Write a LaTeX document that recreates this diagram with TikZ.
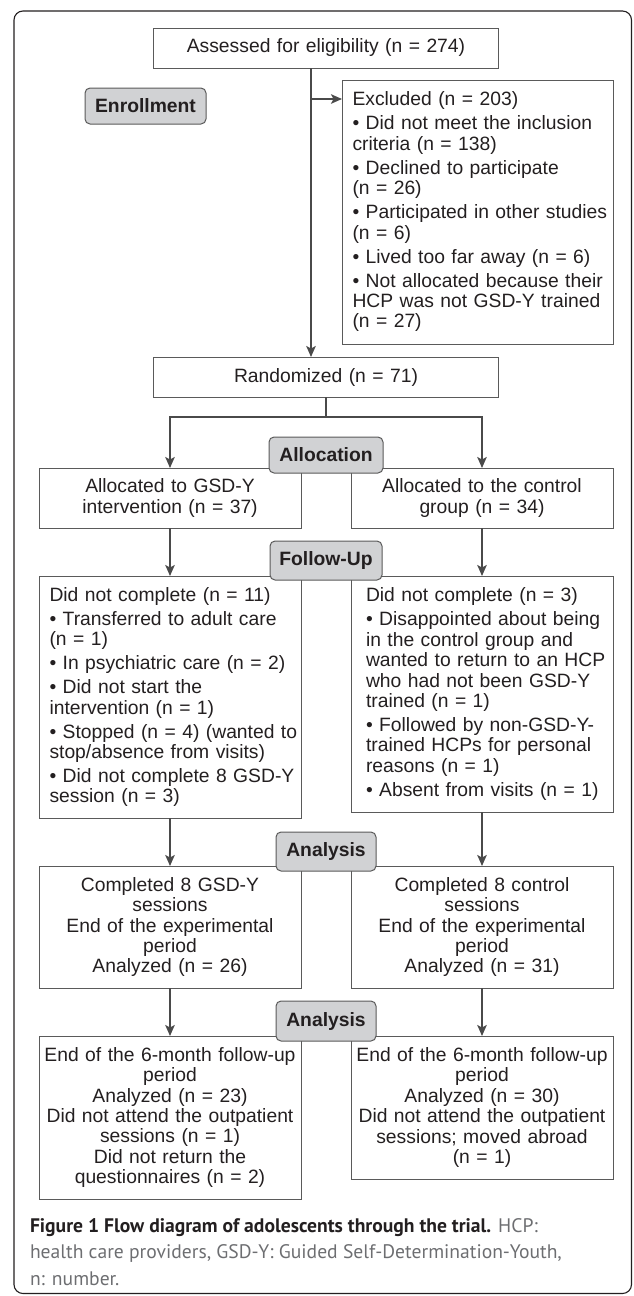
\documentclass[tikz,border=0pt]{standalone}
\usepackage{fontspec}
\setmainfont{Liberation Sans}
\newfontfamily\capfont{PT Sans}
\usetikzlibrary{arrows.meta,calc}
\definecolor{linec}{HTML}{4A4A4A}
\definecolor{boxc}{HTML}{5A5A5A}
\definecolor{txtc}{HTML}{231F20}
\definecolor{labfill}{HTML}{D1D2D4}
\definecolor{capdark}{HTML}{231F20}
\definecolor{capgray}{HTML}{6D6E71}
\newcommand\mb[1]{\mbox{#1}}
\begin{document}
\begin{tikzpicture}[x=1pt,y=-1pt,
  every node/.style={outer sep=0pt},
  txt/.style={font=\fontsize{19.3}{20.4}\selectfont, text=txtc},
  box/.style={txt, draw=boxc, line width=0.9pt, inner ysep=0pt, anchor=north west},
  lbox/.style={box, align=left},
  cbox/.style={box, align=center, inner xsep=4pt},
  stagelabel/.style={draw=boxc, line width=1pt, fill=labfill, rounded corners=5pt,
     font=\fontsize{19.3}{20.4}\selectfont\bfseries, text=txtc, inner sep=0pt},
  conn/.style={draw=linec, line width=1.6pt},
  arr/.style={conn, -{Stealth[length=11pt,width=9.5pt,inset=2.5pt]}},
  captxt/.style={anchor=base west, inner sep=0pt, font=\capfont\fontsize{19.6}{26}\selectfont, text=capgray}
]
\useasboundingbox (0,0) rectangle (633,1296);
% outer frame
\draw[draw=txtc, line width=1.1pt, rounded corners=9pt] (14,11) rectangle (631.5,1293.5);

% main boxes
\node[cbox, minimum width=344.8pt, minimum height=40pt, text width=336pt] (assessed) at (153.6,28) {Assessed for eligibility (n = 274)};
\node[lbox, minimum width=271.6pt, minimum height=264pt, inner xsep=10.5pt, text width=250.6pt] (excluded) at (342,80)
 {\mb{Excluded (n = 203)}\\[3.6pt]
  \mb{• Did not meet the inclusion}\\ \mb{criteria (n = 138)}\\[3.6pt]
  \mb{• Declined to participate}\\ \mb{(n = 26)}\\[3.6pt]
  \mb{• Participated in other studies}\\ \mb{(n = 6)}\\[3.6pt]
  \mb{• Lived too far away (n = 6)}\\[3.6pt]
  \mb{• Not allocated because their}\\ \mb{HCP was not GSD-Y trained}\\ \mb{(n = 27)}};
\node[cbox, minimum width=344.8pt, minimum height=40pt, text width=336pt] (randomized) at (153.6,357) {Randomized (n = 71)};

\node[cbox, minimum width=262pt, minimum height=60pt, text width=254pt] (alloc1) at (39,468) {Allocated to GSD-Y\\ intervention (n = 37)};
\node[cbox, minimum width=262pt, minimum height=60pt, text width=254pt] (alloc2) at (351,468) {Allocated to the control\\ group (n = 34)};

\node[lbox, minimum width=262pt, minimum height=242pt, inner xsep=10.5pt, text width=241pt] (dnc1) at (39,576)
 {\mb{Did not complete (n = 11)}\\[3.6pt]
  \mb{• Transferred to adult care}\\ \mb{(n = 1)}\\[3.6pt]
  \mb{• In psychiatric care (n = 2)}\\[3.6pt]
  \mb{• Did not start the}\\ \mb{intervention (n = 1)}\\[3.6pt]
  \mb{• Stopped (n = 4) (wanted to}\\ \mb{stop/absence from visits)}\\[3.6pt]
  \mb{• Did not complete 8 GSD-Y}\\ \mb{session (n = 3)}};
\node[lbox, minimum width=262pt, minimum height=236pt, inner xsep=15pt, text width=232pt] (dnc2) at (351,576)
 {\mb{Did not complete (n = 3)}\\[3.6pt]
  \mb{• Disappointed about being}\\ \mb{in the control group and}\\ \mb{wanted to return to an HCP}\\ \mb{who had not been GSD-Y}\\ \mb{trained (n = 1)}\\[3.6pt]
  \mb{• Followed by non-GSD-Y-}\\ \mb{trained HCPs for personal}\\ \mb{reasons (n = 1)}\\[3.6pt]
  \mb{• Absent from visits (n = 1)}};

\node[cbox, minimum width=262pt, minimum height=122pt, text width=254pt] (comp1) at (39,866)
 {Completed 8 GSD-Y\\ sessions\\ End of the experimental\\ period\\ Analyzed (n = 26)};
\node[cbox, minimum width=262pt, minimum height=122pt, text width=254pt] (comp2) at (351,866)
 {Completed 8 control\\ sessions\\ End of the experimental\\ period\\ Analyzed (n = 31)};

\node[cbox, minimum width=262pt, minimum height=163pt, text width=254pt] (end1) at (39,1036)
 {\mb{End of the 6-month follow-up}\\ period\\ Analyzed (n = 23)\\ \mb{Did not attend the outpatient}\\ sessions (n = 1)\\ Did not return the\\ questionnaires (n = 2)};
\node[cbox, minimum width=262pt, minimum height=143pt, text width=254pt] (end2) at (351,1036)
 {\mb{End of the 6-month follow-up}\\ period\\ Analyzed (n = 30)\\ \mb{Did not attend the outpatient}\\ sessions; moved abroad\\ (n = 1)};

% connectors
\coordinate (trunk) at (311,0);
\coordinate (exclarrow) at (311,99);
\draw[arr] (assessed.south -| trunk) -- (randomized.north -| trunk);
\draw[arr] (exclarrow) -- (excluded.west |- exclarrow);
\coordinate (split) at (326,417);
\draw[conn] (randomized.south) -- (split);
\draw[arr] (split) -| (alloc1.north);
\draw[arr] (split) -| (alloc2.north);
\draw[arr] (alloc1.south) -- (dnc1.north);
\draw[arr] (alloc2.south) -- (dnc2.north);
\draw[arr] (dnc1.south) -- (comp1.north);
\draw[arr] (dnc2.south) -- (comp2.north);
\draw[arr] (comp1.south) -- (end1.north);
\draw[arr] (comp2.south) -- (end2.north);

% stage labels
\node[stagelabel, minimum width=121pt, minimum height=36pt] (enroll) at (145.5,106) {Enrollment};
\node[stagelabel, minimum width=114pt, minimum height=36pt] (allocation) at (326,455) {Allocation};
\node[stagelabel, minimum width=112pt, minimum height=39pt] (followup) at (326,560.5) {Follow-Up};
\node[stagelabel, minimum width=100pt, minimum height=39pt] (analysis1) at (326,851.5) {Analysis};
\node[stagelabel, minimum width=100pt, minimum height=40pt] (analysis2) at (326,1021) {Analysis};

% caption
\node[captxt] (cap1) at (30,1232) {\textcolor{capdark}{\bfseries Figure 1 Flow diagram of adolescents through the trial.} HCP:};
\node[captxt] (cap2) at (30,1258.5) {health care providers, GSD-Y: Guided Self-Determination-Youth,};
\node[captxt] (cap3) at (30,1285) {n: number.};
\end{tikzpicture}
\end{document}
